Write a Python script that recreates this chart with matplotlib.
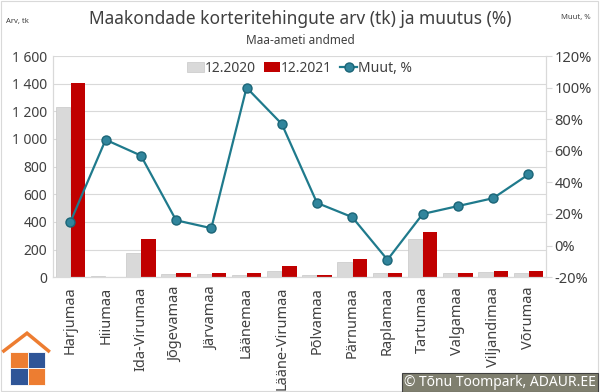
import matplotlib

matplotlib.use("Agg")

import matplotlib.pyplot as plt
import numpy as np
from matplotlib.patches import Rectangle, Polygon
from matplotlib.ticker import FuncFormatter

plt.rcParams["font.family"] = ["Noto Sans", "DejaVu Sans"]

counties = [
    "Harjumaa", "Hiiumaa", "Ida-Virumaa", "Jõgevamaa", "Järvamaa", "Läänemaa",
    "Lääne-Virumaa", "Põlvamaa", "Pärnumaa", "Raplamaa", "Tartumaa",
    "Valgamaa", "Viljandimaa", "Võrumaa",
]
deals_2020 = [1230, 5, 176, 22, 25, 14, 45, 13, 111, 29, 273, 27, 35, 28]
deals_2021 = [1405, 3, 275, 27, 28, 28, 80, 18, 132, 27, 328, 33, 45, 41]
change_pct = [15, 67, 57, 16, 11, 100, 77, 27, 18, -9, 20, 25, 30, 45]

GRAY = "#d9d9d9"
RED = "#c00000"
TEAL = "#1f7a8c"
TEXT = "#404040"

fig = plt.figure(figsize=(6.0, 3.92), dpi=100)
fig.patch.set_facecolor("white")
ax = fig.add_axes([0.088, 0.293, 0.822, 0.564])
ax2 = ax.twinx()

x = np.arange(len(counties))
w = 0.41
b1 = ax.bar(x - 0.215, deals_2020, w, color=GRAY, edgecolor="#c8c8c8",
            linewidth=0.5, label="12.2020", zorder=2)
b2 = ax.bar(x + 0.215, deals_2021, w, color=RED, label="12.2021", zorder=2)
ln, = ax2.plot(x, change_pct, color=TEAL, lw=1.6, marker="o", ms=6.5,
               markerfacecolor="#31859c", markeredgecolor="#1b6577",
               label="Muut, %", zorder=3)

ax.set_xlim(-0.5, len(counties) - 0.5)
ax.set_ylim(0, 1600)
ax.set_yticks(np.arange(0, 1601, 200))
ax.yaxis.set_major_formatter(FuncFormatter(lambda v, p: f"{int(v):,}".replace(",", " ")))
ax2.set_ylim(-20, 120)
ax2.set_yticks(np.arange(-20, 121, 20))
ax2.yaxis.set_major_formatter(FuncFormatter(lambda v, p: f"{int(v)}%"))

ax.grid(axis="y", color="#d9d9d9", lw=0.8, zorder=0)
ax.set_axisbelow(True)
ax.set_xticks(x)
ax.set_xticklabels(counties, rotation=90, fontsize=10.5, color=TEXT)
ax.tick_params(axis="x", length=0, pad=7)
ax.tick_params(axis="y", length=0, labelsize=10, labelcolor=TEXT, pad=4)
ax2.tick_params(axis="y", length=4, color="#d9d9d9", labelsize=10.5,
                labelcolor=TEXT, pad=2)
for a in (ax, ax2):
    a.spines["top"].set_visible(False)
    for s in ("left", "right", "bottom"):
        a.spines[s].set_color("#d9d9d9")

ax.legend(handles=[b1, b2, ln], loc="upper center", bbox_to_anchor=(0.5, 1.035),
          ncol=3, frameon=False, fontsize=10, handlelength=1.2,
          handletextpad=0.05, columnspacing=0.6, labelcolor=TEXT)

fig.text(0.5, 0.952, "Maakondade korteritehingute arv (tk) ja muutus (%)",
         ha="center", va="center", fontsize=12.5, color=TEXT)
fig.text(0.5, 0.897, "Maa-ameti andmed", ha="center", va="center",
         fontsize=8.5, color=TEXT)
fig.text(0.01, 0.946, "Arv, tk", ha="left", va="center", fontsize=5.5, color=TEXT)
fig.text(0.985, 0.955, "Muut, %", ha="right", va="center", fontsize=5.5, color=TEXT)

# border
fig.add_artist(Rectangle((0.002, 0.002), 0.995, 0.995, transform=fig.transFigure,
                         fill=False, edgecolor="#d9d9d9", lw=0.8))

# logo
fig.add_artist(Polygon([[0.004, 0.102], [0.045, 0.15], [0.083, 0.102]],
                       closed=False, fill=False, edgecolor="#ed7d31", lw=2.5,
                       transform=fig.transFigure))
for (lx, ly, c) in [(0.017, 0.06, "#ed7d31"), (0.046, 0.06, "#2f5597"),
                    (0.017, 0.018, "#2f5597"), (0.046, 0.018, "#ed7d31")]:
    fig.add_artist(Rectangle((lx, ly), 0.029, 0.042, transform=fig.transFigure,
                             facecolor=c, edgecolor="white", lw=0.6))

# copyright box
fig.text(0.993, 0.025, "© Tõnu Toompark, ADAUR.EE", ha="right", va="center",
         fontsize=10, color="white",
         bbox=dict(boxstyle="square,pad=0.15", facecolor="#7f7f6f",
                   edgecolor="#404040", lw=0.8))

fig.savefig("out.png", dpi=100)
